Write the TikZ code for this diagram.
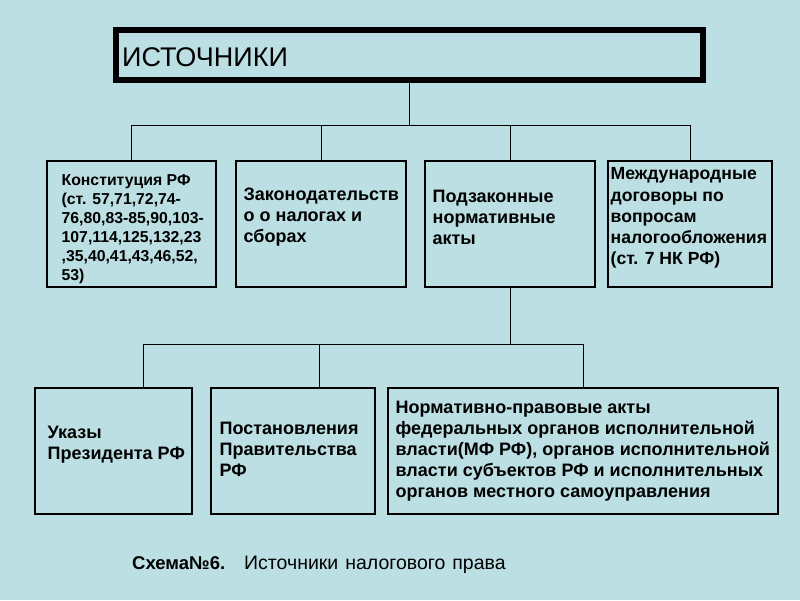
\documentclass[tikz,border=0pt]{standalone}
\usepackage{fontspec}
\setmainfont{Liberation Sans}
\usetikzlibrary{positioning}
\definecolor{slidebg}{RGB}{187,223,227}

\begin{document}
\begin{tikzpicture}[
        x=1pt, y=-1pt,
        box/.style={draw, line width=1.1pt, inner sep=0pt, minimum height=126pt},
        headbox/.style={draw, line width=6pt, inner sep=0pt, minimum width=587pt, minimum height=50pt},
        boxtext/.style={inner sep=0pt, align=left, font=\fontsize{18}{21}\selectfont\bfseries},
        link/.style={line width=1pt},
    ]
        \fill[slidebg] (0,0) rectangle (800,600);
        \useasboundingbox (0,0) rectangle (800,600);

        % Title
        \node[headbox] (title) at (409.5,55) {};
        \node[inner sep=0pt, font=\fontsize{27}{30}\selectfont, right=9pt of title.west, yshift=-2pt] (titletext) {ИСТОЧНИКИ};

        % First level
        \node[box, minimum width=169pt] (konst) at (131.5,224) {};
        \node[box, minimum width=170pt] (zakon) at (321,224) {};
        \node[box, minimum width=170pt] (podzak) at (510,224) {};
        \node[box, minimum width=164pt] (mezh) at (690,224) {};

        \node[boxtext, font=\fontsize{15.8}{19}\selectfont\bfseries, right=15pt of konst.west, yshift=-5pt] (konsttext)
            {Конституция РФ\\(ст. 57,71,72,74-\\76,80,83-85,90,103-\\107,114,125,132,23\\,35,40,41,43,46,52,\\53)};
        \node[boxtext, right=8pt of zakon.west, yshift=7pt] (zakontext)
            {Законодательств\\о о налогах и\\сборах};
        \node[boxtext, right=8pt of podzak.west, yshift=7pt] (podzaktext)
            {Подзаконные\\нормативные\\акты};
        \node[boxtext, font=\fontsize{17.6}{21.2}\selectfont\bfseries, right=3pt of mezh.west, yshift=6pt] (mezhtext)
            {Международные\\договоры по\\вопросам\\налогообложения\\(ст. 7 НК РФ)};

        % Second level
        \node[box, minimum width=157pt] (ukaz) at (113.5,451) {};
        \node[box, minimum width=164pt] (postan) at (293,451) {};
        \node[box, minimum width=390pt] (npa) at (583,451) {};

        \node[boxtext, right=13pt of ukaz.west, yshift=6pt] (ukaztext)
            {Указы\\Президента РФ};
        \node[boxtext, right=9pt of postan.west, yshift=2pt] (postantext)
            {Постановления\\Правительства\\РФ};
        \node[boxtext, right=8pt of npa.west] (npatext)
            {Нормативно-правовые акты\\федеральных органов исполнительной\\власти(МФ РФ), органов исполнительной\\власти субъектов РФ и исполнительных\\органов местного самоуправления};

        % Caption
        \node[inner sep=0pt, anchor=base west, font=\fontsize{18.5}{22}\selectfont\bfseries] (caption) at (132,569)
            {Схема№6.};
        \node[inner sep=0pt, anchor=base west, font=\fontsize{19.5}{22}\selectfont] (captiontext) at (244,569)
            {Источники\hspace{7pt}налогового\hspace{7pt}права};

        % Connectors
        \coordinate (bus1) at (0,125);
        \coordinate (j1) at (143,344);
        \coordinate (j2) at (319,344);
        \coordinate (j3) at (583,344);

        \draw[link] (title.south) -- (title.south |- bus1);
        \draw[link] (konst.north |- bus1) -- (mezh.north |- bus1);
        \foreach \n in {konst, zakon, podzak, mezh}
            \draw[link] (\n.north |- bus1) -- (\n.north);

        \draw[link] (podzak.south) -- (podzak.south |- j1);
        \draw[link] (j1) -- (j3);
        \draw[link] (j1) -- (j1 |- ukaz.north);
        \draw[link] (j2) -- (j2 |- postan.north);
        \draw[link] (j3) -- (j3 |- npa.north);
    \end{tikzpicture}
\end{document}
